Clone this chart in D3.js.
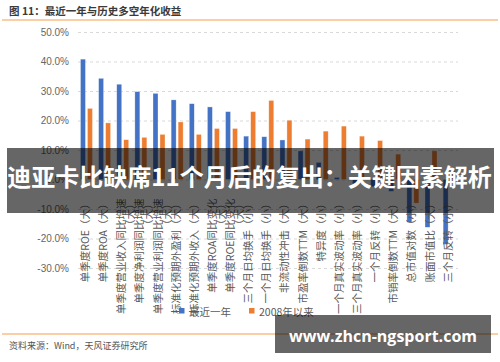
<!DOCTYPE html>
<html lang="zh">
<head>
  <meta charset="UTF-8">
  <title>最近一年与历史多空年化收益</title>
  <style>
    body { margin: 0; background: #fff; }
    svg { display: block; }
  </style>
</head>
<body>
  <svg id="chart" width="500" height="362"></svg>

  <script src="https://cdn.jsdelivr.net/npm/d3@7/dist/d3.min.js"></script>
  <script>
    // 因子名称（括号内为方向）
    var categories = [
      '单季度ROE（大）', '单季度ROA（大）', '单季度营业收入同比增速（大）',
      '单季度净利润同比增速（大）', '单季度营业利润同比增速（大）',
      '标准化预期外盈利（大）', '标准化预期外收入（大）',
      '单季度ROA同比变化（大）', '单季度ROE同比变化（大）',
      '三个月日均换手（小）', '一个月日均换手（小）', '非流动性冲击（大）',
      '市盈率倒数TTM（大）', '特异度（小）', '一个月真实波动率（小）',
      '三个月真实波动率（小）', '一个月反转（小）', '市销率倒数TTM（大）',
      '总市值对数（小）', '账面市值比（大）', '三个月反转（小）'
    ];
    // 多空年化收益 %
    var recentYear = [40.8, 34.3, 32.3, 29.8, 29.2, 27.0, 25.7, 24.6, 23.0, 14.7, 14.5,
                      13.4, 9.7, 5.8, 0.7, -1.5, -2.5, -4.0, -14.5, -16.2, -22.0];
    var since2008 = [24.1, 19.2, 13.5, 14.3, 15.3, 19.5, 15.3, 17.3, 17.3, 23.0, 26.8,
                     20.1, 13.7, 16.4, 18.1, 14.7, 13.2, 8.6, -8.0, 9.7, 2.8];
    var seriesNames = ['最近一年', '2008年以来'];
    var yTicks = [-30, -20, -10, 0, 10, 20, 30, 40, 50];
    var colors = ['#4472C4', '#ED7D31'];

    var svg = d3.select('#chart');
    var cjk = '"Noto Sans CJK SC", "Noto Sans", sans-serif';

    // 标题
    svg.append('text')
       .attr('x', 9).attr('y', 15)
       .attr('font-family', cjk).attr('font-size', 10.5).attr('font-weight', 'bold')
       .attr('fill', '#3a3a3a')
       .text('图 11：最近一年与历史多空年化收益');
    svg.append('line')
       .attr('x1', 2).attr('x2', 498).attr('y1', 20).attr('y2', 20)
       .attr('stroke', '#F5A04C').attr('stroke-width', 1.2);

    // 比例尺
    var x = d3.scaleBand().domain(categories).range([77.4, 458.2]);
    var y = d3.scaleLinear().domain([-30, 50]).range([268, 32]);

    // 网格线
    svg.append('g')
       .attr('transform', 'translate(78,0)')
       .call(d3.axisRight(y).tickValues(yTicks).tickSize(380).tickFormat(''))
       .call(g => g.select('.domain').remove())
       .call(g => g.selectAll('line')
                   .attr('stroke', '#d9d9d9')
                   .attr('stroke-dasharray', '3,3'));

    // y 轴标签
    svg.append('g')
       .attr('transform', 'translate(78,0)')
       .call(d3.axisLeft(y).tickValues(yTicks).tickSize(0).tickPadding(9)
               .tickFormat(d => d.toFixed(1) + '%'))
       .call(g => g.select('.domain').remove())
       .call(g => g.selectAll('text')
                   .attr('font-family', '"Liberation Sans", Arial, sans-serif')
                   .attr('font-size', 10)
                   .attr('fill', '#666'));

    // 柱子
    var offsets = [-6, 1];
    [recentYear, since2008].forEach(function (vals, k) {
      svg.append('g').selectAll('rect')
         .data(vals)
         .enter()
         .append('rect')
         .attr('x', (d, i) => x(categories[i]) + x.bandwidth() / 2 + offsets[k])
         .attr('y', d => y(Math.max(0, d)))
         .attr('width', 5)
         .attr('height', d => Math.abs(y(d) - y(0)))
         .attr('fill', colors[k])
         .attr('stroke', 'rgba(255,255,255,0.55)')
         .attr('stroke-width', 0.6);
    });

    // x 轴标签（竖排，过长的折成两行）
    svg.append('g')
       .attr('transform', 'translate(0,' + y(0) + ')')
       .call(d3.axisBottom(x).tickSize(0).tickFormat(''))
       .call(g => g.select('.domain').remove())
       .call(g => g.selectAll('.tick text').each(function (d) {
         var t = d3.select(this)
           .attr('transform', 'rotate(-90)')
           .attr('text-anchor', 'end')
           .attr('x', -19).attr('y', 2.5).attr('dy', '0.35em')
           .attr('font-family', cjk)
           .attr('font-size', 10.5)
           .attr('fill', '#595959');
         var lines = d.length > 12 ? [d.slice(0, d.indexOf('（')), d.slice(d.indexOf('（'))] : [d];
         lines.forEach(function (s, j) {
           t.append('tspan').attr('x', -19).attr('dy', j ? 9 : 0).text(s);
         });
       }));

    // 图例
    var legendX = [179, 249];
    seriesNames.forEach(function (name, k) {
      svg.append('rect')
         .attr('x', legendX[k]).attr('y', 308).attr('width', 5.5).attr('height', 5.5)
         .attr('fill', colors[k]);
      svg.append('text')
         .attr('x', legendX[k] + 10).attr('y', 316)
         .attr('font-family', cjk).attr('font-size', 10.5).attr('fill', '#595959')
         .text(name);
    });

    // 底部线与资料来源
    svg.append('line')
       .attr('x1', 2).attr('x2', 498).attr('y1', 334).attr('y2', 334)
       .attr('stroke', '#F5A04C').attr('stroke-width', 1.2);
    svg.append('text')
       .attr('x', 9).attr('y', 349)
       .attr('font-family', cjk).attr('font-size', 9).attr('fill', '#555')
       .text('资料来源：Wind，天风证券研究所');

    // 横幅
    svg.append('rect')
       .attr('x', 7).attr('y', 148).attr('width', 487).attr('height', 65)
       .attr('fill', 'rgba(0,0,0,0.6)');
    svg.append('text')
       .attr('x', 249.5).attr('y', 186)
       .attr('text-anchor', 'middle')
       .attr('font-family', cjk).attr('font-size', 24).attr('font-weight', 'bold')
       .attr('fill', '#fff')
       .text('迪亚卡比缺席11个月后的复出：关键因素解析');

    // 水印
    svg.append('rect')
       .attr('x', 275).attr('y', 315).attr('width', 216).attr('height', 38)
       .attr('fill', 'rgba(0,0,0,0.6)');
    svg.append('text')
       .attr('x', 383).attr('y', 342)
       .attr('text-anchor', 'middle')
       .attr('font-family', '"Open Sans", sans-serif').attr('font-size', 16).attr('font-weight', 'bold')
       .attr('fill', '#fff')
       .text('www.zhcn-ngsport.com');
  </script>
</body>
</html>
